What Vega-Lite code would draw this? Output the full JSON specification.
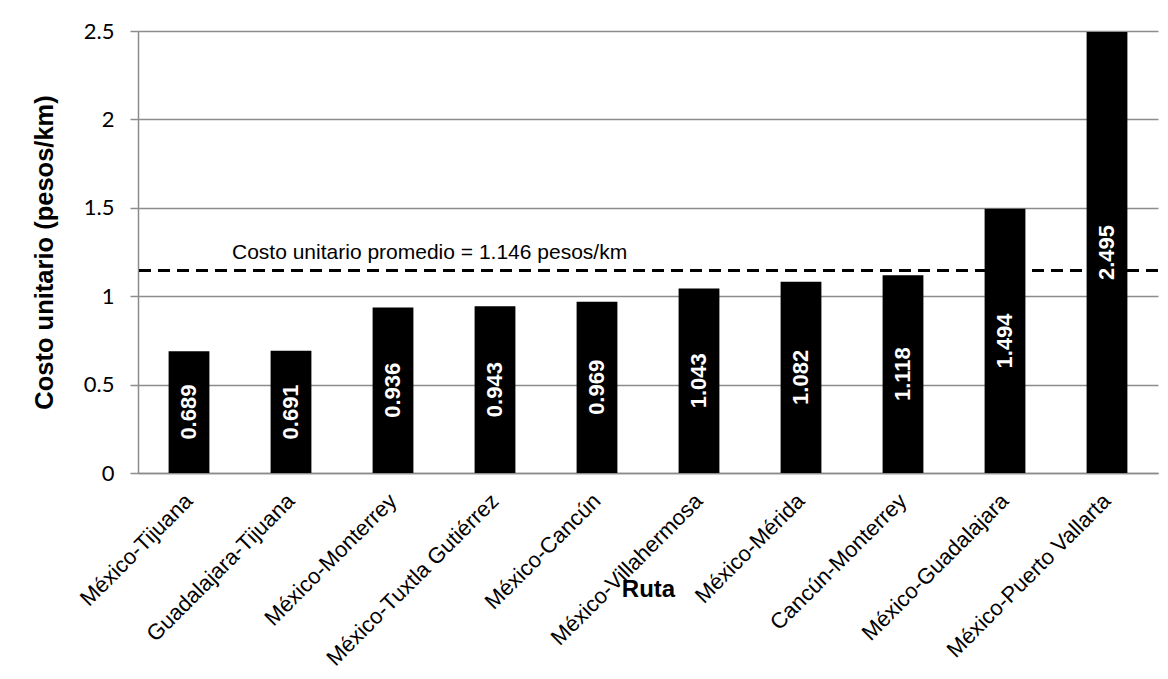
{
  "$schema": "https://vega.github.io/schema/vega-lite/v6.json",
  "width": 1020,
  "height": 442,
  "autosize": {"type": "none"},
  "padding": {"left": 138, "top": 31, "right": 10, "bottom": 206},
  "background": "white",
  "config": {"view": {"stroke": null}},
  "data": {
    "values": [
      {"ruta": "México-Tijuana", "costo": 0.689},
      {"ruta": "Guadalajara-Tijuana", "costo": 0.691},
      {"ruta": "México-Monterrey", "costo": 0.936},
      {"ruta": "México-Tuxtla Gutiérrez", "costo": 0.943},
      {"ruta": "México-Cancún", "costo": 0.969},
      {"ruta": "México-Villahermosa", "costo": 1.043},
      {"ruta": "México-Mérida", "costo": 1.082},
      {"ruta": "Cancún-Monterrey", "costo": 1.118},
      {"ruta": "México-Guadalajara", "costo": 1.494},
      {"ruta": "México-Puerto Vallarta", "costo": 2.495}
    ]
  },
  "layer": [
    {
      "mark": {"type": "bar", "color": "black"},
      "encoding": {
        "x": {
          "field": "ruta", "type": "nominal", "sort": null,
          "scale": {"paddingInner": 0.6, "paddingOuter": 0.3},
          "axis": {
            "labelAngle": -45, "labelAlign": "right", "labelBaseline": "middle",
            "labelFont": "Liberation Sans", "labelFontSize": 22, "labelColor": "black",
            "labelPadding": 24, "labelOffset": 0, "labelLimit": 400, "labelOverlap": false,
            "ticks": false, "domainColor": "#8c8c8c", "domainWidth": 1.5, "grid": false,
            "title": "Ruta", "titleFont": "Liberation Sans", "titleFontSize": 24,
            "titleFontWeight": "bold", "titleColor": "black", "titleY": 123, "titleBaseline": "alphabetic"
          }
        },
        "y": {
          "field": "costo", "type": "quantitative",
          "scale": {"domain": [0, 2.5], "nice": false},
          "axis": {
            "values": [0, 0.5, 1, 1.5, 2, 2.5], "format": "~g",
            "labelFont": "Lato", "labelFontSize": 22, "labelColor": "black", "labelPadding": 16,
            "tickColor": "#8c8c8c", "tickSize": 8, "tickWidth": 1.5,
            "domainColor": "#8c8c8c", "domainWidth": 1.5,
            "gridColor": "#8c8c8c", "gridWidth": 1.5,
            "title": "Costo unitario (pesos/km)", "titleFont": "Liberation Sans", "titleFontSize": 25.5,
            "titleFontWeight": "bold", "titleColor": "black", "titleX": -86, "titleBaseline": "alphabetic"
          }
        }
      }
    },
    {
      "data": {"values": [{"promedio": 1.146, "etiqueta": "Costo unitario promedio = 1.146 pesos/km"}]},
      "mark": {"type": "rule", "strokeDash": [12, 7], "strokeWidth": 3, "color": "black"},
      "encoding": {"y": {"field": "promedio", "type": "quantitative"}}
    },
    {
      "data": {"values": [{"promedio": 1.146, "etiqueta": "Costo unitario promedio = 1.146 pesos/km"}]},
      "mark": {"type": "text", "font": "Liberation Sans", "fontSize": 21, "color": "black", "align": "left", "baseline": "alphabetic", "dx": 43, "dy": -11},
      "encoding": {
        "x": {"datum": "México-Tijuana"},
        "y": {"field": "promedio", "type": "quantitative"},
        "text": {"field": "etiqueta"}
      }
    },
    {
      "transform": [{"calculate": "datum.costo / 2", "as": "posicion_etiqueta"}],
      "mark": {"type": "text", "angle": 270, "color": "white", "font": "Liberation Sans", "fontWeight": "bold", "fontSize": 22, "align": "center", "baseline": "middle"},
      "encoding": {
        "x": {"field": "ruta", "type": "nominal", "sort": null},
        "y": {"field": "posicion_etiqueta", "type": "quantitative"},
        "text": {"field": "costo", "type": "quantitative", "format": ".3f"}
      }
    }
  ]
}
